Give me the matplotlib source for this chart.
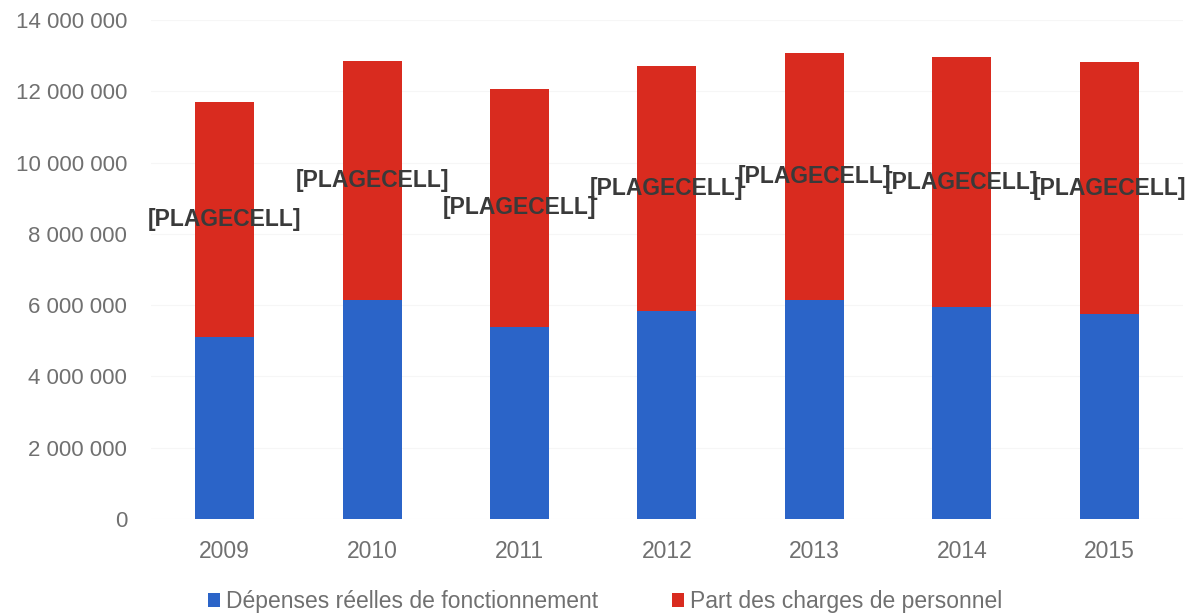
import matplotlib
matplotlib.use("Agg")
import matplotlib.pyplot as plt
import numpy as np
from matplotlib.ticker import FuncFormatter

# data
years = ["2009", "2010", "2011", "2012", "2013", "2014", "2015"]
depenses = [5120000, 6140000, 5390000, 5840000, 6150000, 5950000, 5750000]
personnel = [6580000, 6710000, 6680000, 6870000, 6920000, 7010000, 7070000]
label_text = "[PLAGECELL]"

blue = "#2b64c8"
red = "#d92b1f"

plt.rcParams['font.family'] = ['Liberation Sans', 'DejaVu Sans']

fig = plt.figure(figsize=(11.85, 6.15), dpi=100)
ax = fig.add_axes([0.1274, 0.156, 0.8709, 0.8114])

x = np.arange(len(years))
ax.bar(x, depenses, width=0.4, color=blue, label="Dépenses réelles de fonctionnement")
ax.bar(x, personnel, width=0.4, bottom=depenses, color=red, label="Part des charges de personnel")

for i in range(len(years)):
    ax.text(x[i], depenses[i] + personnel[i] / 2, label_text, ha="center", va="center",
            fontsize=16.5, fontweight="bold", color="#3a3a3a")

ax.set_xlim(-0.5, len(years) - 0.5)
ax.set_ylim(0, 14000000)
ax.set_yticks(np.arange(0, 14000001, 2000000))
ax.yaxis.set_major_formatter(FuncFormatter(lambda v, p: f"{int(v):,}".replace(",", " ")))
ax.set_xticks(x)
ax.set_xticklabels(years)
ax.grid(axis="y", color="#f6f6f6", linewidth=0.8)
ax.set_axisbelow(True)
for s in ax.spines.values():
    s.set_visible(False)
ax.tick_params(axis="x", length=0, labelsize=16.5, colors="#707070", pad=15)
ax.tick_params(axis="y", length=0, labelsize=16, colors="#707070", pad=17)

ax.legend(loc="center", bbox_to_anchor=(0.44, -0.166), ncol=2, frameon=False,
          fontsize=16.5, handlelength=0.55, handleheight=0.55, handletextpad=0.25,
          columnspacing=3.2, labelcolor="#707070", borderpad=0)

fig.savefig("out.png", dpi=100)
